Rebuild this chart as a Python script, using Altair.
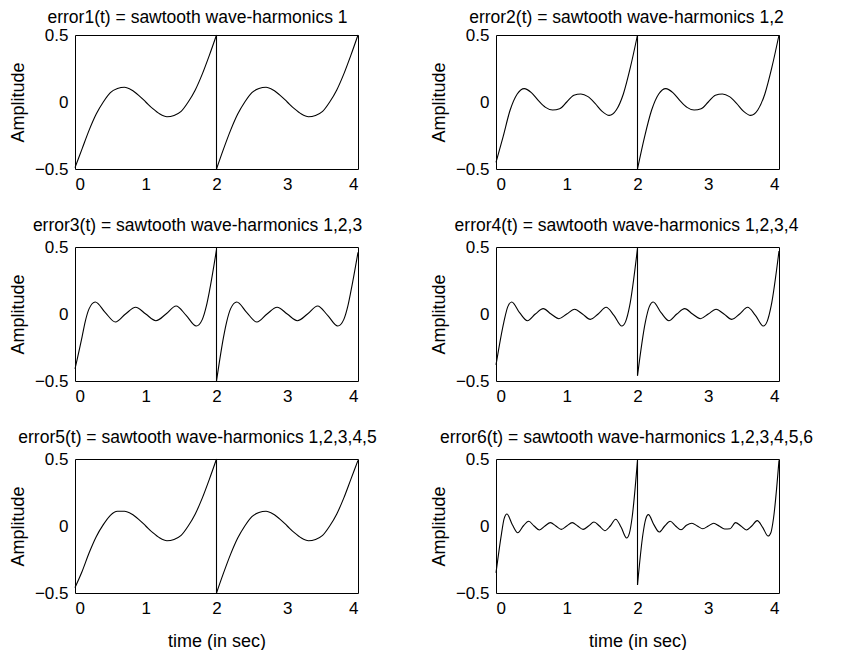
import altair as alt
import pandas as pd

FONT = "Liberation Sans, Arial, Helvetica, sans-serif"

TITLES = [
    "error1(t) = sawtooth wave-harmonics 1",
    "error2(t) = sawtooth wave-harmonics 1,2",
    "error3(t) = sawtooth wave-harmonics 1,2,3",
    "error4(t) = sawtooth wave-harmonics 1,2,3,4",
    "error5(t) = sawtooth wave-harmonics 1,2,3,4,5",
    "error6(t) = sawtooth wave-harmonics 1,2,3,4,5,6",
]

# sample times inside one 2-second period (second period is drawn at t + 2)
T_1 = [0.0, 0.1, 0.2, 0.3, 0.4, 0.5, 0.6, 0.7, 0.8, 0.9, 1.0,
       1.1, 1.2, 1.3, 1.4, 1.5, 1.6, 1.7, 1.8, 1.9, 2.0]
T_3 = [0.0, 0.1, 0.143, 0.2, 0.286, 0.429, 0.571, 0.714, 0.857, 1.0,
       1.143, 1.286, 1.429, 1.571, 1.714, 1.8, 1.857, 1.9, 2.0]
T_4 = [0.0, 0.111, 0.167, 0.222, 0.333, 0.444, 0.556, 0.667, 0.778, 0.889, 1.0,
       1.111, 1.222, 1.333, 1.444, 1.556, 1.667, 1.778, 1.833, 1.889, 2.0]
T_6 = [0.0, 0.077, 0.115, 0.154, 0.231, 0.308, 0.385, 0.462, 0.538, 0.615,
       0.692, 0.769, 0.846, 0.923, 1.0, 1.077, 1.154, 1.231, 1.308, 1.385,
       1.462, 1.538, 1.615, 1.692, 1.769, 1.846, 1.885, 1.923, 2.0]

# error values, first period (A) and second period (B)
E1_A = [-0.49, -0.35, -0.21, -0.09, 0.0, 0.07, 0.1, 0.11, 0.09, 0.05, 0.0,
        -0.05, -0.09, -0.11, -0.1, -0.07, 0.0, 0.09, 0.21, 0.35, 0.5]
E1_B = [-0.5, -0.35, -0.21, -0.09, 0.0, 0.07, 0.1, 0.11, 0.09, 0.05, 0.0,
        -0.05, -0.09, -0.11, -0.1, -0.07, 0.0, 0.09, 0.21, 0.35, 0.5]

E2_A = [-0.45, -0.26, -0.06, 0.06, 0.1, 0.07, 0.01, -0.04, -0.06, -0.05, 0.0,
        0.05, 0.06, 0.04, -0.01, -0.07, -0.1, -0.06, 0.06, 0.26, 0.5]
E2_B = [-0.5, -0.26, -0.06, 0.06, 0.1, 0.07, 0.01, -0.04, -0.06, -0.05, 0.0,
        0.05, 0.06, 0.04, -0.01, -0.07, -0.1, -0.06, 0.06, 0.26, 0.5]

E3_A = [-0.41, -0.17, -0.06, 0.04, 0.09, 0.01, -0.06, 0.0, 0.05, 0.0,
        -0.05, 0.0, 0.06, -0.01, -0.09, -0.04, 0.06, 0.17, 0.48]
E3_B = [-0.5, -0.17, -0.06, 0.04, 0.09, 0.01, -0.06, 0.0, 0.05, 0.0,
        -0.05, 0.0, 0.06, -0.01, -0.09, -0.04, 0.06, 0.17, 0.46]

E4_A = [-0.38, -0.06, 0.055, 0.09, 0.01, -0.05, 0.0, 0.04, 0.0, -0.035, 0.0,
        0.035, 0.0, -0.04, 0.0, 0.05, -0.01, -0.09, -0.055, 0.06, 0.49]
E4_B = [-0.46, -0.06, 0.055, 0.09, 0.01, -0.05, 0.0, 0.04, 0.0, -0.035, 0.0,
        0.035, 0.0, -0.04, 0.0, 0.05, -0.01, -0.09, -0.055, 0.06, 0.47]

E5_A = [-0.46, -0.34, -0.2, -0.08, 0.01, 0.08, 0.11, 0.11, 0.09, 0.05, 0.0,
        -0.05, -0.09, -0.11, -0.1, -0.07, 0.0, 0.09, 0.21, 0.35, 0.5]
E5_B = [-0.5, -0.35, -0.21, -0.09, 0.0, 0.07, 0.1, 0.11, 0.09, 0.05, 0.0,
        -0.05, -0.09, -0.11, -0.1, -0.07, 0.0, 0.09, 0.21, 0.35, 0.49]

E6_A = [-0.35, -0.06, 0.055, 0.09, 0.01, -0.05, 0.0, 0.035, 0.0, -0.03,
        0.0, 0.025, 0.0, -0.025, 0.0, 0.025, 0.0, -0.025, 0.0, 0.03,
        0.0, -0.035, 0.0, 0.05, -0.01, -0.09, -0.055, 0.06, 0.49]
E6_B = [-0.44, -0.06, 0.05, 0.085, 0.01, -0.045, 0.0, 0.035, 0.0, -0.028,
        0.005, 0.02, 0.0, -0.02, 0.0, 0.02, 0.0, -0.022, -0.02, 0.025,
        0.0, -0.03, 0.0, 0.04, -0.01, -0.075, -0.05, 0.06, 0.49]

# vertical jump at t = 2 (top and bottom of the drop)
JUMP_TOP = [0.5, 0.5, 0.5, 0.5, 0.5, 0.5]
JUMP_BOTTOM = [-0.5, -0.5, -0.5, -0.46, -0.5, -0.44]

X_TICKS = [0, 1, 2, 3, 4]
Y_TICKS = [-0.5, 0, 0.5]

SERIES = [(T_1, E1_A, E1_B), (T_1, E2_A, E2_B), (T_3, E3_A, E3_B),
          (T_4, E4_A, E4_B), (T_1, E5_A, E5_B), (T_6, E6_A, E6_B)]

W, H = 283, 134


def panel(i):
    t, a, b = SERIES[i]
    rows = [{"t": tt, "v": vv, "seg": "a"} for tt, vv in zip(t, a)]
    rows += [{"t": tt + 2, "v": vv, "seg": "b"} for tt, vv in zip(t, b)]
    df = pd.DataFrame(rows)
    jump = pd.DataFrame({"t": [2.0], "v": [JUMP_TOP[i]], "v2": [JUMP_BOTTOM[i]]})

    bottom = i >= 4
    x_axis = alt.Axis(values=X_TICKS, format="d", title="time (in sec)" if bottom else None,
                      labelPadding=7, titlePadding=16)
    y_axis = alt.Axis(values=Y_TICKS, title="Amplitude", labelPadding=7, titlePadding=7,
                      labelExpr="datum.value == 0 ? '0' : (datum.value < 0 ? '\u2212' : '') + format(abs(datum.value), '.1f')")
    xs = alt.Scale(domain=[0, 4], nice=False, zero=False)
    ys = alt.Scale(domain=[-0.5, 0.5], nice=False, zero=False)

    line = alt.Chart(df).mark_line(color="black", strokeWidth=1.1, interpolate="monotone").encode(
        x=alt.X("t:Q", scale=xs, axis=x_axis),
        y=alt.Y("v:Q", scale=ys, axis=y_axis),
        detail="seg:N",
    )
    rule = alt.Chart(jump).mark_rule(color="black", strokeWidth=1.1).encode(
        x=alt.X("t:Q", scale=xs),
        y=alt.Y("v:Q", scale=ys),
        y2="v2:Q",
    )
    left = i % 2 == 0
    title = alt.TitleParams(
        TITLES[i], fontSize=17.5, font=FONT, fontWeight="normal", color="black",
        anchor="middle", frame="group", dx=-19 if left else -11,
        offset=0 if i < 2 else 4,
    )
    return alt.layer(line, rule).properties(width=W, height=H, title=title)


chart = alt.concat(
    *[panel(i) for i in range(6)], columns=2,
    spacing={"row": 78, "column": 138}, bounds="flush",
).properties(
    padding={"left": 0, "top": 0, "right": 5, "bottom": 0},
).configure_view(
    stroke="black", strokeWidth=1,
).configure_axis(
    domain=False, ticks=False, grid=False,
    labelFont=FONT, labelFontSize=17, labelColor="black",
    titleFont=FONT, titleFontSize=18, titleFontWeight="normal", titleColor="black",
)

chart.save("out.html", embed_options={"renderer": "svg", "actions": False})
